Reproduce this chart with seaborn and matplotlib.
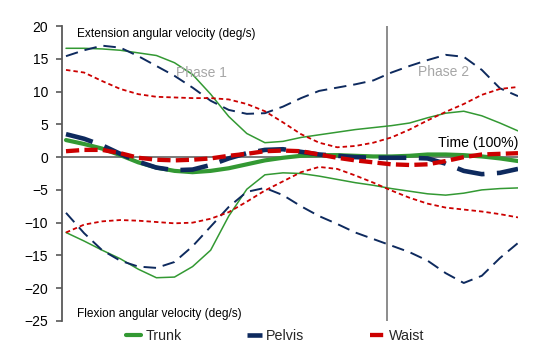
import matplotlib
matplotlib.use("Agg")
import matplotlib.pyplot as plt
import numpy as np
import pandas as pd
import seaborn as sns

# ---------------- data ----------------
time_pct = [0, 4, 8, 12, 16, 20, 24, 28, 32, 36, 40, 44, 48, 52,
            56, 60, 64, 68, 72, 76, 80, 84, 88, 92, 96, 100]

trunk_mean = [2.6, 2.0, 1.3, 0.3, -0.8, -1.6, -2.1, -2.3, -2.1, -1.7, -1.1, -0.5, -0.1, 0.2,
              0.3, 0.3, 0.2, 0.1, 0.1, 0.2, 0.4, 0.4, 0.3, 0.1, -0.2, -0.6]
trunk_hi = [16.6, 16.6, 16.5, 16.3, 15.9, 15.5, 14.4, 12.6, 9.6, 6.2, 3.6, 2.2, 2.4, 3.0,
            3.4, 3.8, 4.2, 4.5, 4.8, 5.2, 6.0, 6.7, 7.0, 6.3, 5.2, 4.0]
trunk_lo = [-11.5, -12.8, -14.2, -15.5, -17.1, -18.4, -18.3, -16.7, -14.2, -9.0, -4.9, -2.7, -2.4, -2.5,
            -2.9, -3.4, -3.9, -4.3, -4.8, -5.2, -5.6, -5.8, -5.5, -5.0, -4.8, -4.7]

pelvis_mean = [3.5, 2.8, 1.8, 0.5, -0.7, -1.6, -2.0, -1.9, -1.2, -0.2, 0.6, 1.1, 1.2, 0.8,
               0.4, 0.2, 0.0, -0.1, -0.1, -0.1, -0.2, -1.0, -2.1, -2.6, -2.4, -1.8]
pelvis_hi = [15.4, 16.3, 17.0, 16.7, 15.4, 13.9, 12.4, 10.6, 8.6, 7.2, 6.6, 6.7, 7.7, 9.0,
             10.1, 10.6, 11.1, 11.7, 12.9, 13.9, 14.8, 15.6, 15.3, 13.3, 10.5, 9.3]
pelvis_lo = [-8.5, -11.6, -14.2, -15.8, -16.7, -16.9, -16.0, -13.6, -10.6, -7.6, -5.3, -4.7, -5.8, -7.5,
             -9.0, -10.2, -11.5, -12.5, -13.5, -14.5, -15.8, -17.7, -19.2, -18.1, -15.4, -13.1]

waist_mean = [0.9, 1.1, 1.1, 0.6, -0.1, -0.4, -0.5, -0.4, -0.2, 0.2, 0.5, 0.9, 1.0, 0.9,
              0.4, -0.1, -0.5, -0.8, -1.1, -1.2, -1.1, -0.6, 0.0, 0.4, 0.5, 0.6]
waist_hi = [13.3, 12.9, 11.6, 10.4, 9.6, 9.2, 9.1, 9.0, 9.0, 8.8, 8.1, 7.0, 5.3, 3.5,
            2.2, 1.5, 1.7, 2.2, 3.0, 4.2, 5.6, 6.9, 8.1, 9.5, 10.4, 10.7]
waist_lo = [-11.5, -10.3, -9.8, -9.6, -9.7, -9.9, -10.1, -10.0, -9.4, -8.4, -6.8, -5.1, -3.7, -2.3,
            -1.5, -1.8, -2.8, -3.9, -5.1, -6.2, -7.1, -7.7, -8.0, -8.3, -8.7, -9.2]

segments = ["Trunk", "Pelvis", "Waist"]
phase_split = 71
y_ticks = [-25, -20, -15, -10, -5, 0, 5, 10, 15, 20]

# ---------------- style ----------------
sns.set_theme(style="white")
plt.rcParams["font.family"] = ["Liberation Sans", "DejaVu Sans"]
plt.rcParams["lines.scale_dashes"] = False

GREEN = "#339933"
NAVY = "#0e2a5e"
RED = "#cc0000"

W, H = 542, 357
fig = plt.figure(figsize=(W / 100, H / 100), dpi=100)
fig.patch.set_facecolor("white")
ax = fig.add_axes([62 / W, 1 - 321 / H, (518 - 62) / W, (321 - 26) / H])
ax.set_facecolor("white")

ax.axhline(0, color="#7a7a7a", lw=1.4, zorder=1)
ax.axvline(phase_split, color="#8c8c8c", lw=1.4, zorder=1)

def draw(y, color, lw, ls, label=None, z=2):
    sns.lineplot(x=time_pct, y=y, ax=ax, color=color, linewidth=lw,
                 linestyle=ls, label=label, errorbar=None, zorder=z,
                 dash_capstyle="butt", legend=False)

# thin SD lines
draw(trunk_hi, GREEN, 1.1, "-")
draw(trunk_lo, GREEN, 1.1, "-")
draw(pelvis_hi, NAVY, 1.4, (0, (9, 5)))
draw(pelvis_lo, NAVY, 1.4, (0, (9, 5)))
draw(waist_hi, RED, 1.3, (0, (3.2, 2.2)))
draw(waist_lo, RED, 1.3, (0, (3.2, 2.2)))
# mean lines
draw(trunk_mean, GREEN, 3.0, "-", label=segments[0], z=3)
draw(pelvis_mean, NAVY, 3.3, (0, (20, 9)), label=segments[1], z=4)
draw(waist_mean, RED, 3.1, (0, (9.5, 3.8)), label=segments[2], z=5)

ax.set_xlim(-0.885, 100)
ax.set_ylim(-25, 20)
ax.set_yticks(y_ticks)
ax.set_xticks([])
ax.set_xlabel("")
ax.set_ylabel("")
for s in ["top", "right", "bottom"]:
    ax.spines[s].set_visible(False)
ax.spines["left"].set_color("#595959")
ax.spines["left"].set_linewidth(1.3)
ax.tick_params(axis="y", left=True, direction="out", length=4, width=1.2,
               color="#595959", labelsize=10, pad=6, labelcolor="black")

ax.text(2.4, 18.8, "Extension angular velocity (deg/s)", fontsize=8.6,
        ha="left", va="center", color="black")
ax.text(2.4, -24.0, "Flexion angular velocity (deg/s)", fontsize=8.6,
        ha="left", va="center", color="black")
ax.text(24.3, 12.8, "Phase 1", fontsize=10, ha="left", va="center", color="#a6a6a6")
ax.text(77.9, 13.0, "Phase 2", fontsize=10, ha="left", va="center", color="#a6a6a6")
ax.text(100, 2.1, "Time (100%)", fontsize=10.2, ha="right", va="center", color="black")

handles = [l for l in ax.get_lines() if l.get_label() in segments]
order = [next(h for h in handles if h.get_label() == s) for s in segments]
fig.legend(order, segments, loc="center", bbox_to_anchor=(275.5 / W, 1 - 336 / H),
           ncol=3, frameon=False, fontsize=10.3, handlelength=1.05,
           handletextpad=0.28, columnspacing=4.6, borderaxespad=0, borderpad=0)

fig.savefig("out.png", dpi=100)
